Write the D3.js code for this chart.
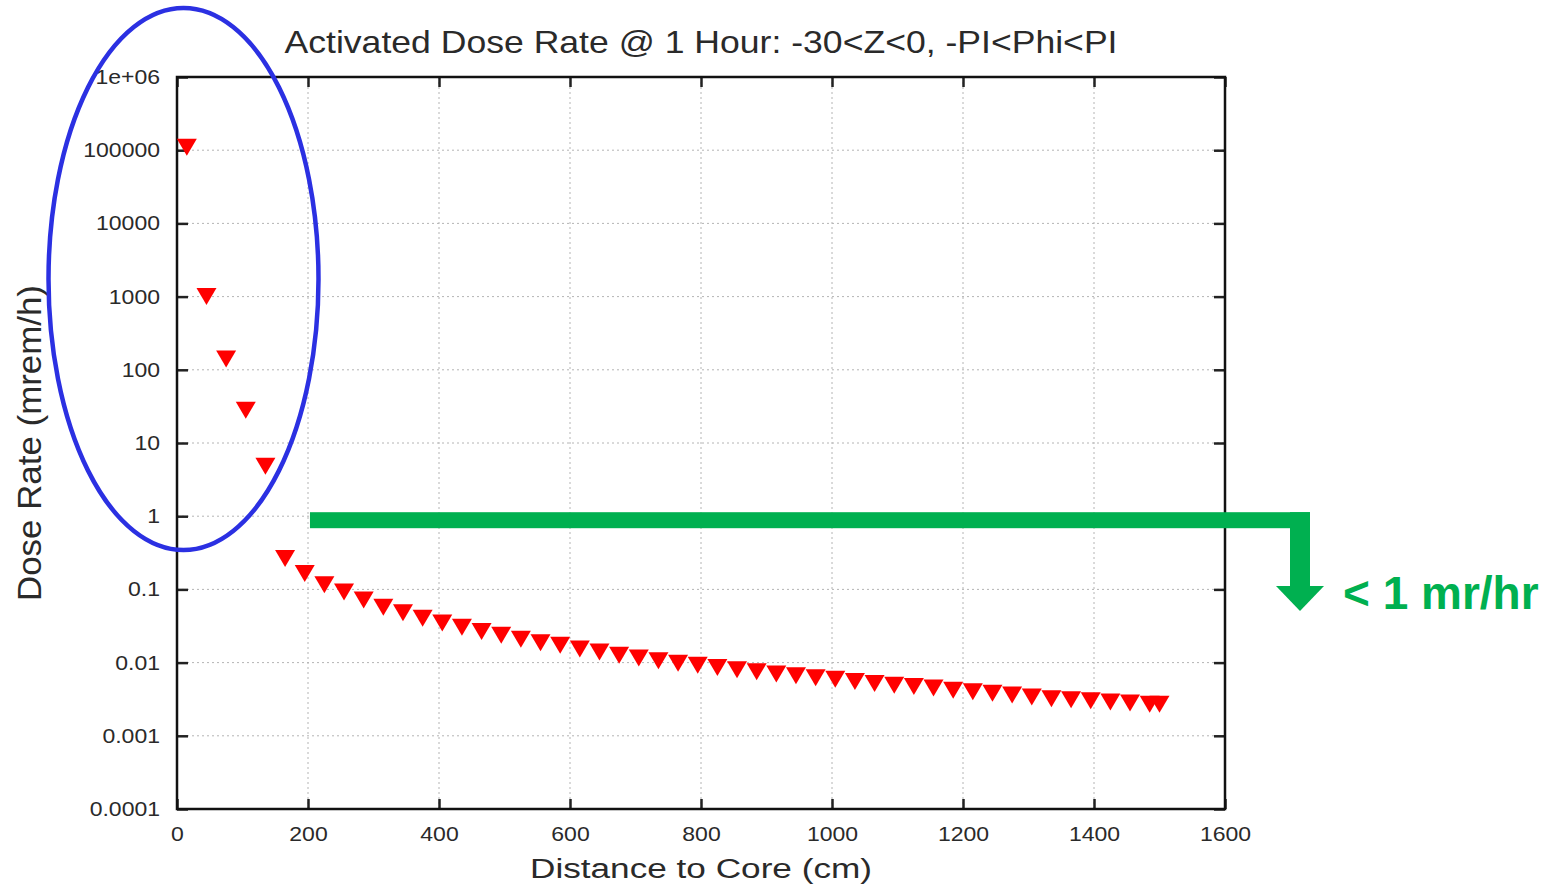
<!DOCTYPE html>
<html>
<head>
<meta charset="utf-8">
<script src="https://cdn.jsdelivr.net/npm/d3@7"></script>
<style>
  html, body { margin: 0; padding: 0; background: #fff; }
  svg { display: block; font-family: "Liberation Sans", Arial, Helvetica, sans-serif; }
</style>
</head>
<body>
<div id="viz"></div>
<script>
// distance to core (cm) and dose rate (mrem/h)
let distance = [15, 45, 75, 105, 135, 165, 195, 225, 255, 285, 315, 345, 375, 405, 435, 465, 495, 525, 555,
  585, 615, 645, 675, 705, 735, 765, 795, 825, 855, 885, 915, 945, 975, 1005, 1035, 1065, 1095, 1125,
  1155, 1185, 1215, 1245, 1275, 1305, 1335, 1365, 1395, 1425, 1455, 1485, 1500];
let doseRate = [110000, 1000, 140, 28, 4.8, 0.265, 0.165, 0.116, 0.092, 0.0714, 0.057, 0.048, 0.0405, 0.0347,
  0.0304, 0.0267, 0.0237, 0.0209, 0.0186, 0.0173, 0.0153, 0.014, 0.0126, 0.0116, 0.0106, 0.0098, 0.0092,
  0.0086, 0.008, 0.0075, 0.007, 0.0066, 0.0062, 0.0059, 0.0055, 0.0052, 0.0049, 0.0047, 0.0045, 0.0042,
  0.004, 0.0038, 0.0036, 0.0034, 0.0032, 0.0031, 0.003, 0.0029, 0.0028, 0.0027, 0.0027];
let xTicks = [0, 200, 400, 600, 800, 1000, 1200, 1400, 1600];
let yTicks = [1e-4, 1e-3, 1e-2, 1e-1, 1, 10, 100, 1000, 1e4, 1e5, 1e6];
let yTickLabels = ["0.0001", "0.001", "0.01", "0.1", "1", "10", "100", "1000", "10000", "100000", "1e+06"];

let title = "Activated Dose Rate @ 1 Hour: -30<Z<0, -PI<Phi<PI";
let xTitle = "Distance to Core (cm)";
let yTitle = "Dose Rate (mrem/h)";
let note = "< 1 mr/hr";

let w = 1556;
let h = 888;
let pLeft = 177, pRight = 1225, pTop = 77, pBottom = 809;

let svg = d3.select("#viz").append("svg")
    .attr("width", w).attr("height", h)
    .attr("viewBox", "0 0 " + w + " " + h);

let x = d3.scaleLinear().domain([0, 1600]).range([pLeft, pRight]);
let y = d3.scaleLog().domain([1e-4, 1e6]).range([pBottom, pTop]);

// stretch text horizontally like the blurred gnuplot output
function stretch(sel, k) {
  sel.each(function () {
    let l = this.getComputedTextLength();
    this.setAttribute("textLength", l * k);
    this.setAttribute("lengthAdjust", "spacingAndGlyphs");
  });
}

// grid
let grid = svg.append("g").attr("class", "grid")
    .attr("stroke", "#b4b4b4").attr("stroke-width", 1).attr("stroke-dasharray", "2,3");
grid.selectAll(".gx").data(xTicks.slice(1, -1)).enter().append("line")
    .attr("x1", d => x(d)).attr("x2", d => x(d)).attr("y1", pTop).attr("y2", pBottom);
grid.selectAll(".gy").data(yTicks.slice(1, -1)).enter().append("line")
    .attr("y1", d => y(d)).attr("y2", d => y(d)).attr("x1", pLeft).attr("x2", pRight);

// axes (gnuplot style inner ticks, mirrored)
let yAxisL = d3.axisLeft(y).tickValues(yTicks).tickSizeInner(-11).tickSizeOuter(0)
    .tickFormat((d, i) => yTickLabels[i]).tickPadding(17);
let yAxisR = d3.axisRight(y).tickValues(yTicks).tickSizeInner(-11).tickSizeOuter(0).tickFormat("");
let xAxisB = d3.axisBottom(x).tickValues(xTicks).tickSizeInner(-10).tickSizeOuter(0)
    .tickFormat(d3.format("d")).tickPadding(18);
let xAxisT = d3.axisTop(x).tickValues(xTicks).tickSizeInner(-10).tickSizeOuter(0).tickFormat("");

let gl = svg.append("g").attr("transform", "translate(" + pLeft + ",0)").call(yAxisL);
let gr = svg.append("g").attr("transform", "translate(" + pRight + ",0)").call(yAxisR);
let gb = svg.append("g").attr("transform", "translate(0," + pBottom + ")").call(xAxisB);
let gt = svg.append("g").attr("transform", "translate(0," + pTop + ")").call(xAxisT);

[gl, gr, gb, gt].forEach(g => {
  g.select(".domain").remove();
  g.selectAll(".tick line").attr("stroke", "#222").attr("stroke-width", 2.5);
  g.selectAll(".tick text").attr("fill", "#2a2a2a").attr("font-size", 20)
      .attr("font-family", "Liberation Sans, Arial, sans-serif");
});
gl.selectAll(".tick text").call(stretch, 1.15);
gb.selectAll(".tick text").call(stretch, 1.15);

// frame
svg.append("rect")
    .attr("x", pLeft).attr("y", pTop).attr("width", pRight - pLeft).attr("height", pBottom - pTop)
    .attr("fill", "none").attr("stroke", "#111").attr("stroke-width", 2.5);

// data points: filled down triangles
let tri = "M-10,-8.5L10,-8.5L0,8.5Z";
svg.append("g").attr("class", "points")
  .selectAll("path").data(distance).enter().append("path")
    .attr("d", tri)
    .attr("fill", "#ff0000")
    .attr("transform", (d, i) => "translate(" + x(d) + "," + y(doseRate[i]) + ")");

// titles
svg.append("text")
    .attr("x", (pLeft + pRight) / 2).attr("y", 53)
    .attr("text-anchor", "middle").attr("font-size", 32).attr("fill", "#2a2a2a")
    .attr("textLength", 833).attr("lengthAdjust", "spacingAndGlyphs")
    .text(title);

svg.append("text")
    .attr("x", (pLeft + pRight) / 2).attr("y", 878)
    .attr("text-anchor", "middle").attr("font-size", 27).attr("fill", "#2a2a2a")
    .attr("textLength", 342).attr("lengthAdjust", "spacingAndGlyphs")
    .text(xTitle);

svg.append("text")
    .attr("transform", "translate(41," + (pTop + pBottom) / 2 + ") rotate(-90) scale(1,1.08)")
    .attr("text-anchor", "middle").attr("font-size", 30).attr("fill", "#2a2a2a")
    .attr("textLength", 316).attr("lengthAdjust", "spacingAndGlyphs")
    .text(yTitle);

// annotations
let blue = "#2b30e2";
let green = "#00b050";

svg.append("ellipse")
    .attr("cx", 183.5).attr("cy", 279)
    .attr("rx", 135).attr("ry", 271)
    .attr("fill", "none").attr("stroke", blue).attr("stroke-width", 4.5);

let yLine = y(1) + 4;
svg.append("rect")
    .attr("x", x(203)).attr("y", yLine - 8)
    .attr("width", 1310 - x(203)).attr("height", 16)
    .attr("fill", green);
svg.append("rect")
    .attr("x", 1290).attr("y", yLine - 8)
    .attr("width", 20).attr("height", 587 - (yLine - 8))
    .attr("fill", green);
svg.append("path")
    .attr("d", "M1276,586L1324,586L1300,611Z")
    .attr("fill", green);

svg.append("text")
    .attr("x", 1343).attr("y", 609)
    .attr("font-size", 46).attr("font-weight", "bold").attr("fill", green)
    .attr("font-family", "Liberation Sans, Arial, sans-serif")
    .text(note);
</script>
</body>
</html>
